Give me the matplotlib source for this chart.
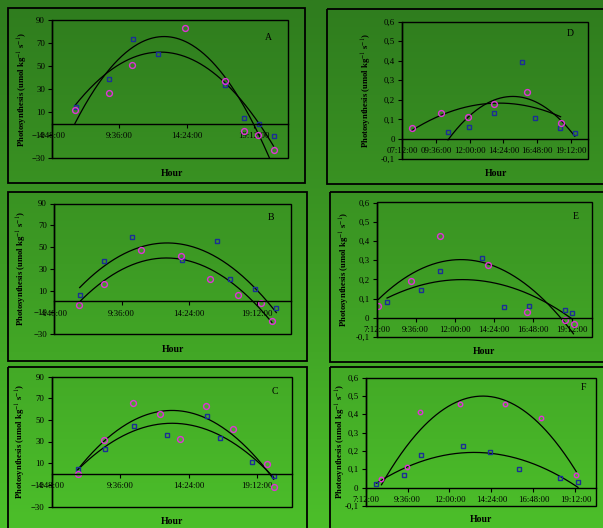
import numpy as np
import matplotlib.pyplot as plt
from matplotlib.colors import LinearSegmentedColormap
from matplotlib.patches import Rectangle
from matplotlib.ticker import FixedLocator, FuncFormatter

plt.rcParams['font.family'] = ['Liberation Serif', 'DejaVu Serif']
plt.rcParams['mathtext.fontset'] = 'stix'

# hour of the day as fraction of a day, photosynthesis values
a_sq_x = [0.270, 0.370, 0.439, 0.513, 0.714, 0.769, 0.814, 0.858]
a_sq_y = [14.1, 38.9, 73.5, 60.3, 33.2, 4.6, -0.3, -11.0]
a_ci_x = [0.268, 0.370, 0.436, 0.595, 0.713, 0.769, 0.811, 0.857]
a_ci_y = [11.5, 26.5, 50.8, 82.8, 36.6, -6.9, -9.8, -23.1]
# panel A trendlines as printed (start, top, end), they are not a plain fit of the dots
a_trend1_x = [0.268, 0.530, 0.845]
a_trend1_y = [0.0, 75.6, -30.0]
a_trend2_x = [0.268, 0.510, 0.857]
a_trend2_y = [15.6, 62.0, -19.6]

b_sq_x = [0.276, 0.348, 0.430, 0.579, 0.683, 0.721, 0.794, 0.858]
b_sq_y = [5.5, 36.7, 59.1, 38.0, 55.1, 20.2, 11.3, -6.4]
b_ci_x = [0.273, 0.347, 0.457, 0.576, 0.662, 0.744, 0.813, 0.845]
b_ci_y = [-3.4, 15.9, 47.1, 41.3, 20.8, 5.8, -1.8, -17.8]

c_sq_x = [0.277, 0.356, 0.442, 0.536, 0.653, 0.692, 0.784, 0.848]
c_sq_y = [4.9, 23.4, 44.6, 36.3, 53.5, 33.2, 11.1, -1.5]
c_ci_x = [0.276, 0.354, 0.439, 0.515, 0.576, 0.651, 0.728, 0.828, 0.848]
c_ci_y = [0.0, 31.7, 65.5, 55.1, 32.6, 62.8, 41.5, 9.2, -12.3]

d_sq_x = [0.436, 0.498, 0.571, 0.656, 0.693, 0.768, 0.811]
d_sq_y = [0.037, 0.060, 0.135, 0.395, 0.107, 0.058, 0.031]
d_ci_x = [0.329, 0.416, 0.495, 0.572, 0.670, 0.769]
d_ci_y = [0.055, 0.131, 0.111, 0.179, 0.238, 0.080]

e_sq_x = [0.327, 0.413, 0.463, 0.569, 0.626, 0.689, 0.782, 0.801]
e_sq_y = [0.082, 0.147, 0.241, 0.312, 0.058, 0.059, 0.038, 0.024]
e_ci_x = [0.305, 0.388, 0.462, 0.586, 0.686, 0.782, 0.804]
e_ci_y = [0.063, 0.194, 0.426, 0.277, 0.030, -0.010, -0.030]

f_sq_x = [0.326, 0.392, 0.433, 0.533, 0.596, 0.666, 0.762, 0.806]
f_sq_y = [0.022, 0.067, 0.180, 0.225, 0.196, 0.100, 0.051, 0.029]
f_ci_x = [0.338, 0.398, 0.429, 0.525, 0.633, 0.717, 0.802]
f_ci_y = [0.045, 0.111, 0.412, 0.457, 0.457, 0.377, 0.071]

ticks_big = [-30, -10, 10, 30, 50, 70, 90]
ticks_small = [-0.1, 0, 0.1, 0.2, 0.3, 0.4, 0.5, 0.6]
xt_big = [0.2, 0.4, 0.6, 0.8]
xl_big = ['4:48:00', '9:36:00', '14:24:00', '19:12:00']
xt_small = [0.3, 0.4, 0.5, 0.6, 0.7, 0.8]
xl_d = ['07:12:00', '09:36:00', '12:00:00', '14:24:00', '16:48:00', '19:12:00']
xl_ef = ['7:12:00', '9:36:00', '12:00:00', '14:24:00', '16:48:00', '19:12:00']

W, H = 603, 528
fig = plt.figure(figsize=(W / 100, H / 100), dpi=100)

# green gradient background
bg = fig.add_axes([0, 0, 1, 1], zorder=-10)
cm = LinearSegmentedColormap.from_list('g', ['#2f7c1e', '#3d9b24', '#4cbf2a'])
bg.imshow(np.linspace(0, 1, 256).reshape(-1, 1), aspect='auto', cmap=cm,
          extent=(0, W, H, 0))
bg.set_xlim(0, W)
bg.set_ylim(H, 0)
bg.axis('off')

# panel boxes (left, top, right, bottom) in px
boxes = [(8, 8, 305, 183), (327, 9, 610, 184),
         (8, 191.5, 307, 361), (330, 192, 610, 362),
         (7.5, 367, 307, 535), (330, 367, 610, 535)]
for l, t, r, b in boxes:
    bg.add_patch(Rectangle((l, t), r - l, b - t, fill=False, ec='black', lw=1.3))


def px_axes(l, t, r, b):
    return fig.add_axes([l / W, 1 - b / H, (r - l) / W, (b - t) / H])


def fmt_comma(v, pos):
    if abs(v) < 1e-9:
        return '0'
    return ('%.1f' % v).replace('.', ',')


def panel(rect, sx, sy, cx, cy, ylim, yt, xlim, xt, xl, letter, lpos, ylx, hour_xy,
          small=False, csize=4.2, trends=None):
    ax = px_axes(*rect)
    ax.patch.set_facecolor('none')
    ax.patch.set_edgecolor('black')
    ax.patch.set_linewidth(1.0)
    for s in ['top', 'right']:
        ax.spines[s].set_visible(False)
    ax.spines['bottom'].set_position(('data', 0))
    ax.spines['left'].set_linewidth(1.0)
    ax.spines['bottom'].set_linewidth(1.0)

    # 2nd order polynomial trendlines
    if trends is None:
        trends = [(sx, sy), (cx, cy)]
    for xs, ys in trends:
        xs = np.array(xs)
        p = np.polyfit(xs, ys, 2)
        xx = np.linspace(xs.min(), xs.max(), 200)
        ax.plot(xx, np.polyval(p, xx), color='black', lw=0.9, clip_on=True)

    ax.plot(sx, sy, ls='none', marker='s', ms=3.3, mfc='none', mec='#1b2f95', mew=1.0)
    ax.plot(cx, cy, ls='none', marker='o', ms=csize, mfc='none', mec='#e033d8', mew=1.0)

    ax.set_xlim(*xlim)
    ax.set_ylim(*ylim)
    ax.yaxis.set_major_locator(FixedLocator(yt))
    if small:
        ax.yaxis.set_major_formatter(FuncFormatter(fmt_comma))
    ax.set_xticks(xt)
    ax.set_xticklabels(xl)
    ax.tick_params(axis='both', direction='out', length=3, width=0.8,
                   labelsize=6.3, pad=2, colors='black')
    ax.tick_params(axis='x', pad=3)

    ax.text(lpos[0], lpos[1], letter, transform=fig.transFigure, fontsize=7,
            ha='center', va='center')
    fig.text(ylx / W, 1 - (rect[1] + rect[3]) / 2 / H,
             'Photosynthesis (umol kg$^{-1}$ s$^{-1}$)', rotation=90,
             ha='center', va='center', fontsize=6.2, fontweight='bold')
    fig.text(hour_xy[0] / W, 1 - hour_xy[1] / H, 'Hour', ha='center', va='center',
             fontsize=7, fontweight='bold')
    return ax


def lp(x, y):
    return (x / W, 1 - y / H)


panel((52, 20, 288, 158), a_sq_x, a_sq_y, a_ci_x, a_ci_y, (-30, 90), ticks_big,
      (0.2, 0.9), xt_big, xl_big, 'A', lp(268, 38), 23, (172, 173),
      trends=[(a_trend1_x, a_trend1_y), (a_trend2_x, a_trend2_y)])
panel((54, 203.5, 290.5, 334), b_sq_x, b_sq_y, b_ci_x, b_ci_y, (-30, 90), ticks_big,
      (0.2, 0.9), xt_big, xl_big, 'B', lp(271, 217), 22, (173, 350))
panel((51.5, 376.5, 291.5, 506.5), c_sq_x, c_sq_y, c_ci_x, c_ci_y, (-30, 90), ticks_big,
      (0.2, 0.9), xt_big, xl_big, 'C', lp(275, 391), 21, (172, 521))
panel((402, 21.5, 588, 158.5), d_sq_x, d_sq_y, d_ci_x, d_ci_y, (-0.1, 0.6), ticks_small,
      (0.3, 0.85), xt_small, xl_d, 'D', lp(570, 33), 367, (496, 173), small=True)
panel((376.5, 202.5, 591.5, 337), e_sq_x, e_sq_y, e_ci_x, e_ci_y, (-0.1, 0.6), ticks_small,
      (0.3, 0.85), xt_small, xl_ef, 'E', lp(576, 216), 345, (484, 351), small=True)
panel((365.5, 377.5, 596.5, 506), f_sq_x, f_sq_y, f_ci_x, f_ci_y, (-0.1, 0.6), ticks_small,
      (0.3, 0.85), xt_small, xl_ef, 'F', lp(583, 387), 341, (481, 520), small=True,
      csize=3.2)

fig.savefig('out.png', dpi=100)
